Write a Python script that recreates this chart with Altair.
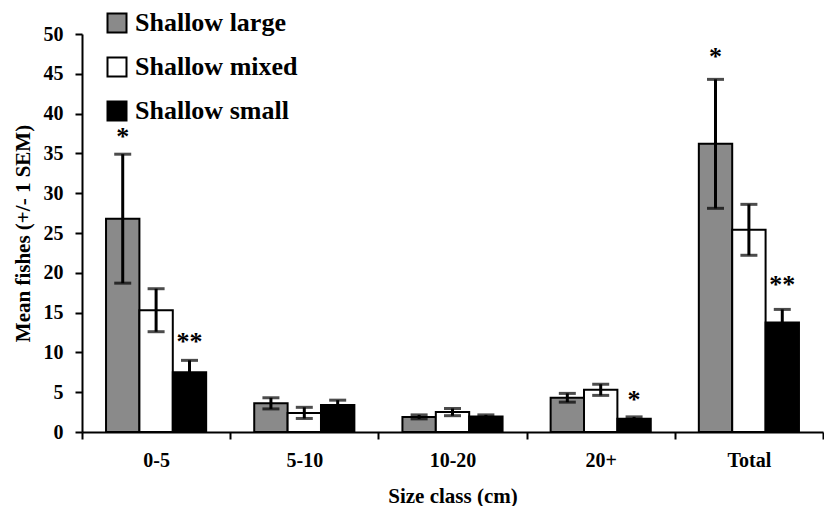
import altair as alt
import pandas as pd

size_classes = ["0-5", "5-10", "10-20", "20+", "Total"]
habitats = ["Shallow large", "Shallow mixed", "Shallow small"]
fills = ["#8a8a8a", "#ffffff", "#000000"]

large_mean = [26.8, 3.6, 1.9, 4.3, 36.2]
large_sem = [8.1, 0.7, 0.25, 0.55, 8.1]
mixed_mean = [15.3, 2.4, 2.5, 5.3, 25.4]
mixed_sem = [2.7, 0.7, 0.45, 0.7, 3.2]
small_mean = [7.5, 3.4, 1.95, 1.65, 13.75]
small_sem = [1.5, 0.6, 0.2, 0.25, 1.65]

star_size = ["0-5", "0-5", "20+", "Total", "Total"]
star_habitat = ["Shallow large", "Shallow small", "Shallow small", "Shallow large", "Shallow small"]
star_text = ["*", "**", "*", "*", "**"]
star_y = [37.6, 11.8, 4.5, 47.6, 19.0]

rows = []
for i, s in enumerate(size_classes):
    for h, m, e in zip(habitats,
                       [large_mean[i], mixed_mean[i], small_mean[i]],
                       [large_sem[i], mixed_sem[i], small_sem[i]]):
        rows.append(dict(size=s, habitat=h, mean=m, lo=m - e, hi=m + e))
df = pd.DataFrame(rows)
stars = pd.DataFrame(dict(size=star_size, habitat=star_habitat, label=star_text, y=star_y))

FONT = "'Liberation Serif', 'Times New Roman', serif"
YTITLE = "Mean fishes (+/- 1 SEM)"

x_enc = alt.X("size:N", sort=size_classes,
              scale=alt.Scale(domain=size_classes, paddingInner=0, paddingOuter=0),
              axis=alt.Axis(title="Size class (cm)", labelAngle=0, tickBand="extent",
                            labelPadding=11, titlePadding=15))
xo_enc = alt.XOffset("habitat:N",
                     scale=alt.Scale(domain=habitats, paddingInner=0, paddingOuter=0.72))
y_scale = alt.Scale(domain=[0, 50], nice=False)
y_axis = alt.Axis(title=YTITLE, values=list(range(0, 51, 5)), labelPadding=12, titlePadding=10)

bars = alt.Chart(df).mark_bar(stroke="black", strokeWidth=2).encode(
    x=x_enc, xOffset=xo_enc,
    y=alt.Y("mean:Q", scale=y_scale, axis=y_axis),
    fill=alt.Fill("habitat:N", scale=alt.Scale(domain=habitats, range=fills),
                  legend=alt.Legend(title=None, orient="none", legendX=22, legendY=-24,
                                    symbolType="square", symbolSize=361,
                                    symbolStrokeColor="black", symbolStrokeWidth=2,
                                    labelFont=FONT, labelFontSize=26, labelFontWeight="bold",
                                    labelColor="black", labelOffset=5, rowPadding=16,
                                    labelLimit=400, padding=0)),
)

err = alt.Chart(df).mark_rule(color="black", strokeWidth=3).encode(
    x=x_enc, xOffset=xo_enc,
    y=alt.Y("lo:Q", scale=y_scale, axis=y_axis), y2="hi:Q",
)
cap_hi = alt.Chart(df).mark_tick(color="black", thickness=3, size=17).encode(
    x=x_enc, xOffset=xo_enc, y=alt.Y("hi:Q", scale=y_scale, axis=y_axis),
)
cap_lo = alt.Chart(df).mark_tick(color="black", thickness=3, size=17).encode(
    x=x_enc, xOffset=xo_enc, y=alt.Y("lo:Q", scale=y_scale, axis=y_axis),
)
star_marks = alt.Chart(stars).mark_text(font=FONT, fontSize=26, fontWeight="bold",
                                         baseline="middle", color="black", dy=4).encode(
    x=x_enc, xOffset=xo_enc,
    y=alt.Y("y:Q", scale=y_scale, axis=y_axis),
    text="label:N",
)

chart = alt.layer(bars, err, cap_hi, cap_lo, star_marks).properties(
    width=816, height=498,
    autosize=alt.AutoSizeParams(type="fit", contains="padding"),
    padding={"left": 4, "top": 16, "right": 0, "bottom": 0},
    background="white",
).configure_view(strokeWidth=0).configure_axis(
    labelFont=FONT, labelFontSize=20, labelFontWeight="bold", labelColor="black",
    titleFont=FONT, titleFontSize=21, titleFontWeight="bold", titleColor="black",
    domainColor="black", domainWidth=2, tickColor="black", tickWidth=2, tickSize=7,
    grid=False,
)

chart.save("out.html", embed_options={"renderer": "svg", "actions": False})
